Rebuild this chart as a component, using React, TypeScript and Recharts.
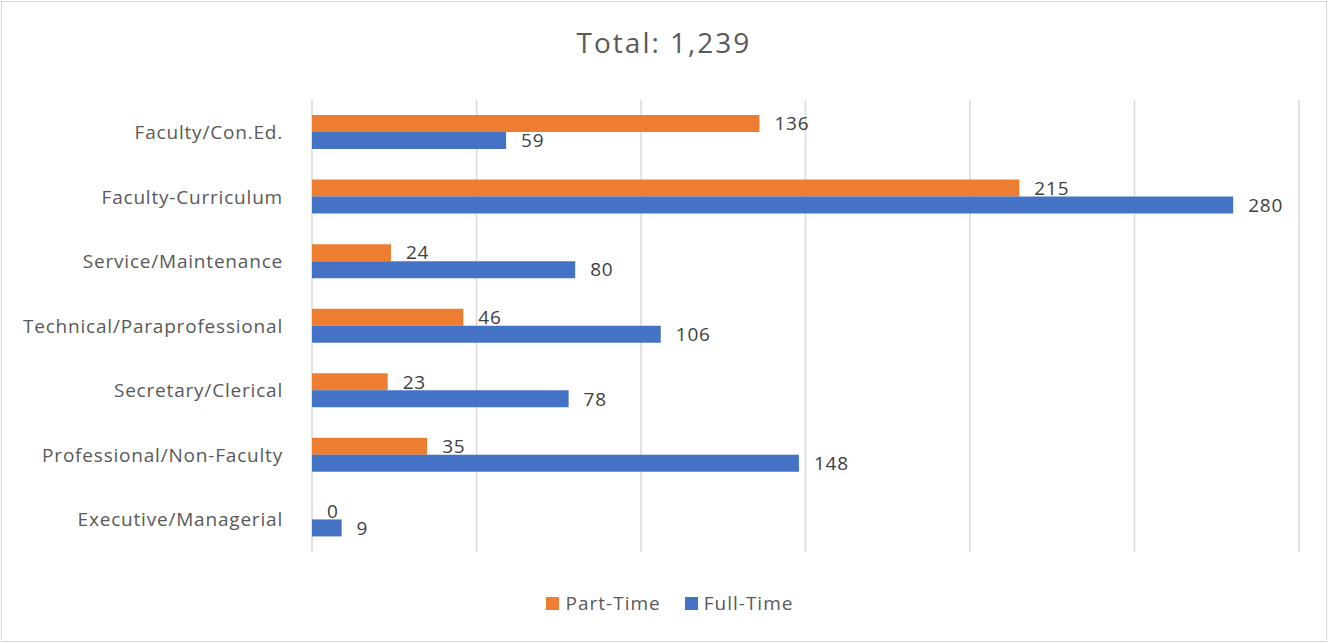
import React from "react";
import { BarChart, Bar, XAxis, YAxis, CartesianGrid, LabelList } from "recharts";

const categories = [
  "Faculty/Con.Ed.",
  "Faculty-Curriculum",
  "Service/Maintenance",
  "Technical/Paraprofessional",
  "Secretary/Clerical",
  "Professional/Non-Faculty",
  "Executive/Managerial",
];
const partTime = [136, 215, 24, 46, 23, 35, 0];
const fullTime = [59, 280, 80, 106, 78, 148, 9];
const xTicks = [0, 50, 100, 150, 200, 250, 300];
const title = "Total: 1,239";
const seriesNames = ["Part-Time", "Full-Time"];

const data = categories.map((c, i) => ({ name: c, part: partTime[i], full: fullTime[i] }));

const FONT = "'Open Sans', 'Noto Sans', sans-serif";
const ORANGE = "#ED7D31";
const BLUE = "#4472C4";

const zeroMin = (value: any) => (value === 0 ? 0.01 : 0);

export default function App() {
  return (
    <div style={{ position: "absolute", left: 0, top: 0, width: 1328, height: 643, background: "#fff" }}>
      <div style={{ position: "absolute", left: 1, top: 1, width: 1326, height: 641, boxSizing: "border-box", border: "1px solid #d9d9d9" }} />
      <div style={{ position: "absolute", left: 0, top: 23, width: 1328, textAlign: "center", fontFamily: FONT, fontSize: 28, letterSpacing: 2, color: "#595959", whiteSpace: "nowrap" }}>
        {title}
      </div>
      <div style={{ position: "absolute", left: 0, top: 0 }}>
        <BarChart
          width={1328}
          height={643}
          data={data}
          layout="vertical"
          margin={{ top: 100, bottom: 91, left: 0, right: 29 }}
          barGap={0}
          barSize={17}
        >
          <CartesianGrid horizontal={false} vertical={true} stroke="#d9d9d9" strokeWidth={1.5} />
          <XAxis type="number" domain={[0, 300]} ticks={xTicks} hide />
          <YAxis
            type="category"
            dataKey="name"
            width={312}
            axisLine={false}
            tickLine={false}
            tickSize={0}
            tickMargin={29}
            tick={{ fill: "#595959", fontSize: 19, fontFamily: FONT, letterSpacing: 0.8 }}
            interval={0}
          />
          <Bar dataKey="part" name={seriesNames[0]} fill={ORANGE} isAnimationActive={false} minPointSize={zeroMin}>
            <LabelList dataKey="part" position="right" offset={15} fill="#404040" fontSize={19} fontFamily={FONT} letterSpacing={0.8} />
          </Bar>
          <Bar dataKey="full" name={seriesNames[1]} fill={BLUE} isAnimationActive={false} minPointSize={zeroMin}>
            <LabelList dataKey="full" position="right" offset={15} fill="#404040" fontSize={19} fontFamily={FONT} letterSpacing={0.8} />
          </Bar>
        </BarChart>
      </div>
      <div style={{ position: "absolute", left: 0, top: 590, width: 1328, paddingLeft: 11, boxSizing: "border-box", display: "flex", justifyContent: "center", alignItems: "center", fontFamily: FONT, fontSize: 19, letterSpacing: 1, color: "#595959", whiteSpace: "nowrap" }}>
        <span style={{ display: "inline-block", width: 13, height: 13, background: ORANGE, marginRight: 7 }} />
        <span style={{ marginRight: 24 }}>{seriesNames[0]}</span>
        <span style={{ display: "inline-block", width: 13, height: 13, background: BLUE, marginRight: 6 }} />
        <span>{seriesNames[1]}</span>
      </div>
    </div>
  );
}
